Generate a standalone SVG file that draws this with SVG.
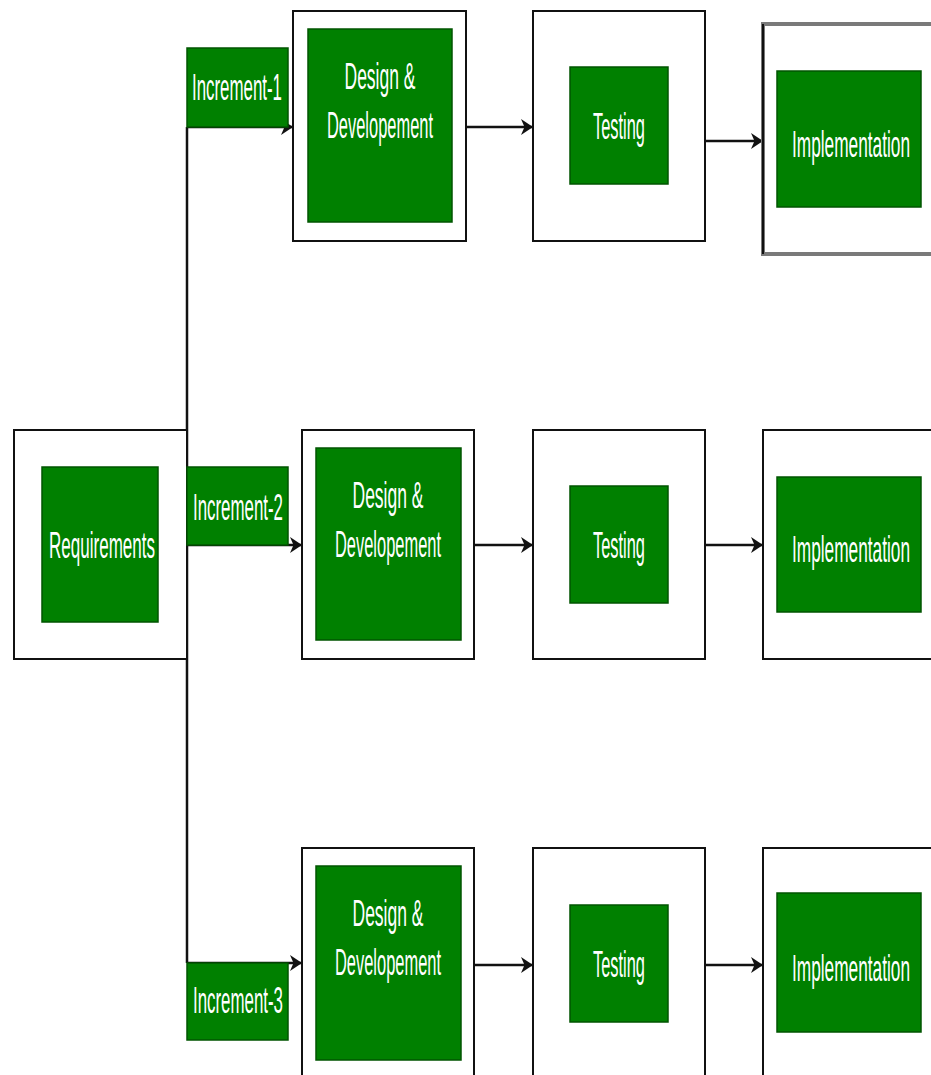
<svg xmlns="http://www.w3.org/2000/svg" width="931" height="1075" viewBox="0 0 931 1075">
<defs>
<style>
.outer{fill:#ffffff;stroke:#111111;stroke-width:2}
.green{fill:#008000;stroke:#005400;stroke-width:1.5}
.lbl{font-family:"Liberation Sans",Arial,sans-serif;font-size:37px;fill:#ffffff;text-anchor:middle}
.conn{fill:none;stroke:#111111;stroke-width:2.5}
</style>
<marker id="arr" viewBox="0 0 12 16" refX="11" refY="8" markerWidth="12" markerHeight="16" markerUnits="userSpaceOnUse" orient="auto">
<path d="M0,0 L12,8 L0,16 L3.5,8 Z" fill="#111111"/>
</marker>
</defs>
<rect width="931" height="1075" fill="#ffffff"/>

<g id="connectors">
<path class="conn" d="M187,127 V963"/>
<path class="conn" d="M187,127 H292" marker-end="url(#arr)"/>
<path class="conn" d="M187,545 H301" marker-end="url(#arr)"/>
<path class="conn" d="M187,963 H301" marker-end="url(#arr)"/>
<path class="conn" d="M466,127 H532" marker-end="url(#arr)"/>
<path class="conn" d="M474,545 H532" marker-end="url(#arr)"/>
<path class="conn" d="M474,965 H532" marker-end="url(#arr)"/>
<path class="conn" d="M705,141 H762" marker-end="url(#arr)"/>
<path class="conn" d="M705,545 H762" marker-end="url(#arr)"/>
<path class="conn" d="M705,965 H762" marker-end="url(#arr)"/>
</g>

<g id="requirements">
<rect class="outer" x="14" y="430" width="173" height="229"/>
<rect class="green" x="42" y="467" width="116" height="155"/>
<text class="lbl" x="102" y="558" textLength="106" lengthAdjust="spacingAndGlyphs">Requirements</text>
</g>

<g id="increment-1">
<rect class="green" x="187" y="48" width="101" height="79"/>
<text class="lbl" x="237" y="100" textLength="90" lengthAdjust="spacingAndGlyphs">Increment-1</text>
</g>
<g id="increment-2">
<rect class="green" x="187" y="467" width="101" height="78"/>
<text class="lbl" x="238" y="520" textLength="90" lengthAdjust="spacingAndGlyphs">Increment-2</text>
</g>
<g id="increment-3">
<rect class="green" x="187" y="963" width="101" height="77"/>
<text class="lbl" x="238" y="1013" textLength="90" lengthAdjust="spacingAndGlyphs">Increment-3</text>
</g>

<g id="design-1">
<rect class="outer" x="293" y="11" width="173" height="230"/>
<rect class="green" x="308" y="29" width="144" height="193"/>
<text class="lbl" x="380" y="89" textLength="71" lengthAdjust="spacingAndGlyphs">Design &amp;</text>
<text class="lbl" x="380" y="138" textLength="106" lengthAdjust="spacingAndGlyphs">Developement</text>
</g>
<g id="design-2">
<rect class="outer" x="302" y="430" width="172" height="229"/>
<rect class="green" x="316" y="448" width="145" height="192"/>
<text class="lbl" x="388" y="508" textLength="71" lengthAdjust="spacingAndGlyphs">Design &amp;</text>
<text class="lbl" x="388" y="557" textLength="106" lengthAdjust="spacingAndGlyphs">Developement</text>
</g>
<g id="design-3">
<rect class="outer" x="302" y="848" width="172" height="240"/>
<rect class="green" x="316" y="866" width="145" height="194"/>
<text class="lbl" x="388" y="926" textLength="71" lengthAdjust="spacingAndGlyphs">Design &amp;</text>
<text class="lbl" x="388" y="975" textLength="106" lengthAdjust="spacingAndGlyphs">Developement</text>
</g>

<g id="testing-1">
<rect class="outer" x="533" y="11" width="172" height="230"/>
<rect class="green" x="570" y="67" width="98" height="117"/>
<text class="lbl" x="619" y="139" textLength="52" lengthAdjust="spacingAndGlyphs">Testing</text>
</g>
<g id="testing-2">
<rect class="outer" x="533" y="430" width="172" height="229"/>
<rect class="green" x="570" y="486" width="98" height="117"/>
<text class="lbl" x="619" y="558" textLength="52" lengthAdjust="spacingAndGlyphs">Testing</text>
</g>
<g id="testing-3">
<rect class="outer" x="533" y="848" width="172" height="240"/>
<rect class="green" x="570" y="905" width="98" height="117"/>
<text class="lbl" x="619" y="977" textLength="52" lengthAdjust="spacingAndGlyphs">Testing</text>
</g>

<g id="implementation-1">
<rect x="763" y="24" width="200" height="230" fill="#ffffff" stroke="#7a7a7a" stroke-width="4"/>
<line x1="763" y1="24" x2="763" y2="254" stroke="#111111" stroke-width="2"/>
<rect class="green" x="777" y="71" width="144" height="136"/>
<text class="lbl" x="851" y="157" textLength="118" lengthAdjust="spacingAndGlyphs">Implementation</text>
</g>
<g id="implementation-2">
<rect class="outer" x="763" y="430" width="200" height="229"/>
<rect class="green" x="777" y="477" width="144" height="135"/>
<text class="lbl" x="851" y="562" textLength="118" lengthAdjust="spacingAndGlyphs">Implementation</text>
</g>
<g id="implementation-3">
<rect class="outer" x="763" y="848" width="200" height="240"/>
<rect class="green" x="777" y="893" width="144" height="139"/>
<text class="lbl" x="851" y="981" textLength="118" lengthAdjust="spacingAndGlyphs">Implementation</text>
</g>
</svg>
